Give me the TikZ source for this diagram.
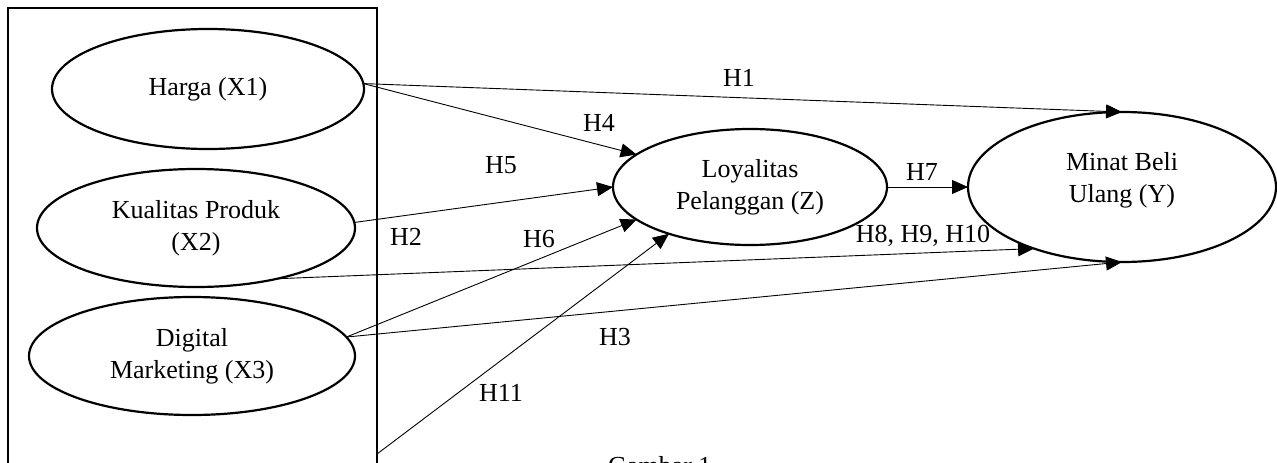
\documentclass[tikz,border=0pt]{standalone}
\usepackage{fontspec}
\setmainfont{Liberation Serif}
\usetikzlibrary{shapes.geometric,arrows.meta}
\begin{document}
\begin{tikzpicture}[x=1pt,y=-1pt,
  every node/.style={font=\fontsize{26}{32}\selectfont},
  var/.style={ellipse,draw,line width=2.2pt,inner sep=0pt,outer sep=0pt,align=center},
  conn/.style={line width=0.9pt,-{Triangle[length=16pt,width=14pt]}},
  hyp/.style={inner sep=0pt,anchor=base}]
\clip (0,0) rectangle (1277,463);
\draw[line width=2pt] (8,480) -- (8,8) -- (377,8) -- (377,480);
\node[var,minimum width=312pt,minimum height=120pt] (harga) at (208,89) {Harga (X1)};
\node[var,minimum width=318pt,minimum height=118pt] (kual) at (196,228) {Kualitas Produk\\(X2)};
\node[var,minimum width=326pt,minimum height=118pt] (dig) at (192,356) {Digital\\Marketing (X3)};
\node[var,minimum width=274pt,minimum height=116pt] (loy) at (750,187) {Loyalitas\\Pelanggan (Z)};
\node[var,minimum width=308pt,minimum height=150pt,
  label={[align=center,yshift=7pt,inner sep=0pt]center:Minat Beli\\Ulang (Y)}] (minat) at (1122,187) {};
\coordinate (h11s) at (377,454);
\draw[conn] (harga.2) -- (minat.north);
\draw[conn] (harga.2) -- (loy.164);
\draw[conn] (kual.2) -- (loy.west);
\draw[conn] (kual.-32) -- (minat.-145);
\draw[conn] (dig.7) -- (minat.south);
\draw[conn] (dig.7) -- (loy.196);
\draw[conn] (h11s) -- (loy.210);
\draw[conn] (loy.east) -- (minat.west);
\node[hyp] (lh1) at (739,86) {H1};
\node[hyp] (lh4) at (599,131) {H4};
\node[hyp] (lh5) at (501,173) {H5};
\node[hyp] (lh2) at (406,245) {H2};
\node[hyp] (lh6) at (539,247) {H6};
\node[hyp] (lh7) at (922,180) {H7};
\node[hyp] (lh8) at (923,242) {H8, H9, H10};
\node[hyp] (lh3) at (615,345) {H3};
\node[hyp] (lh11) at (501,401) {H11};
\node[inner sep=0pt,anchor=base west] (cap) at (608,474) {Gambar 1};
\end{tikzpicture}
\end{document}
